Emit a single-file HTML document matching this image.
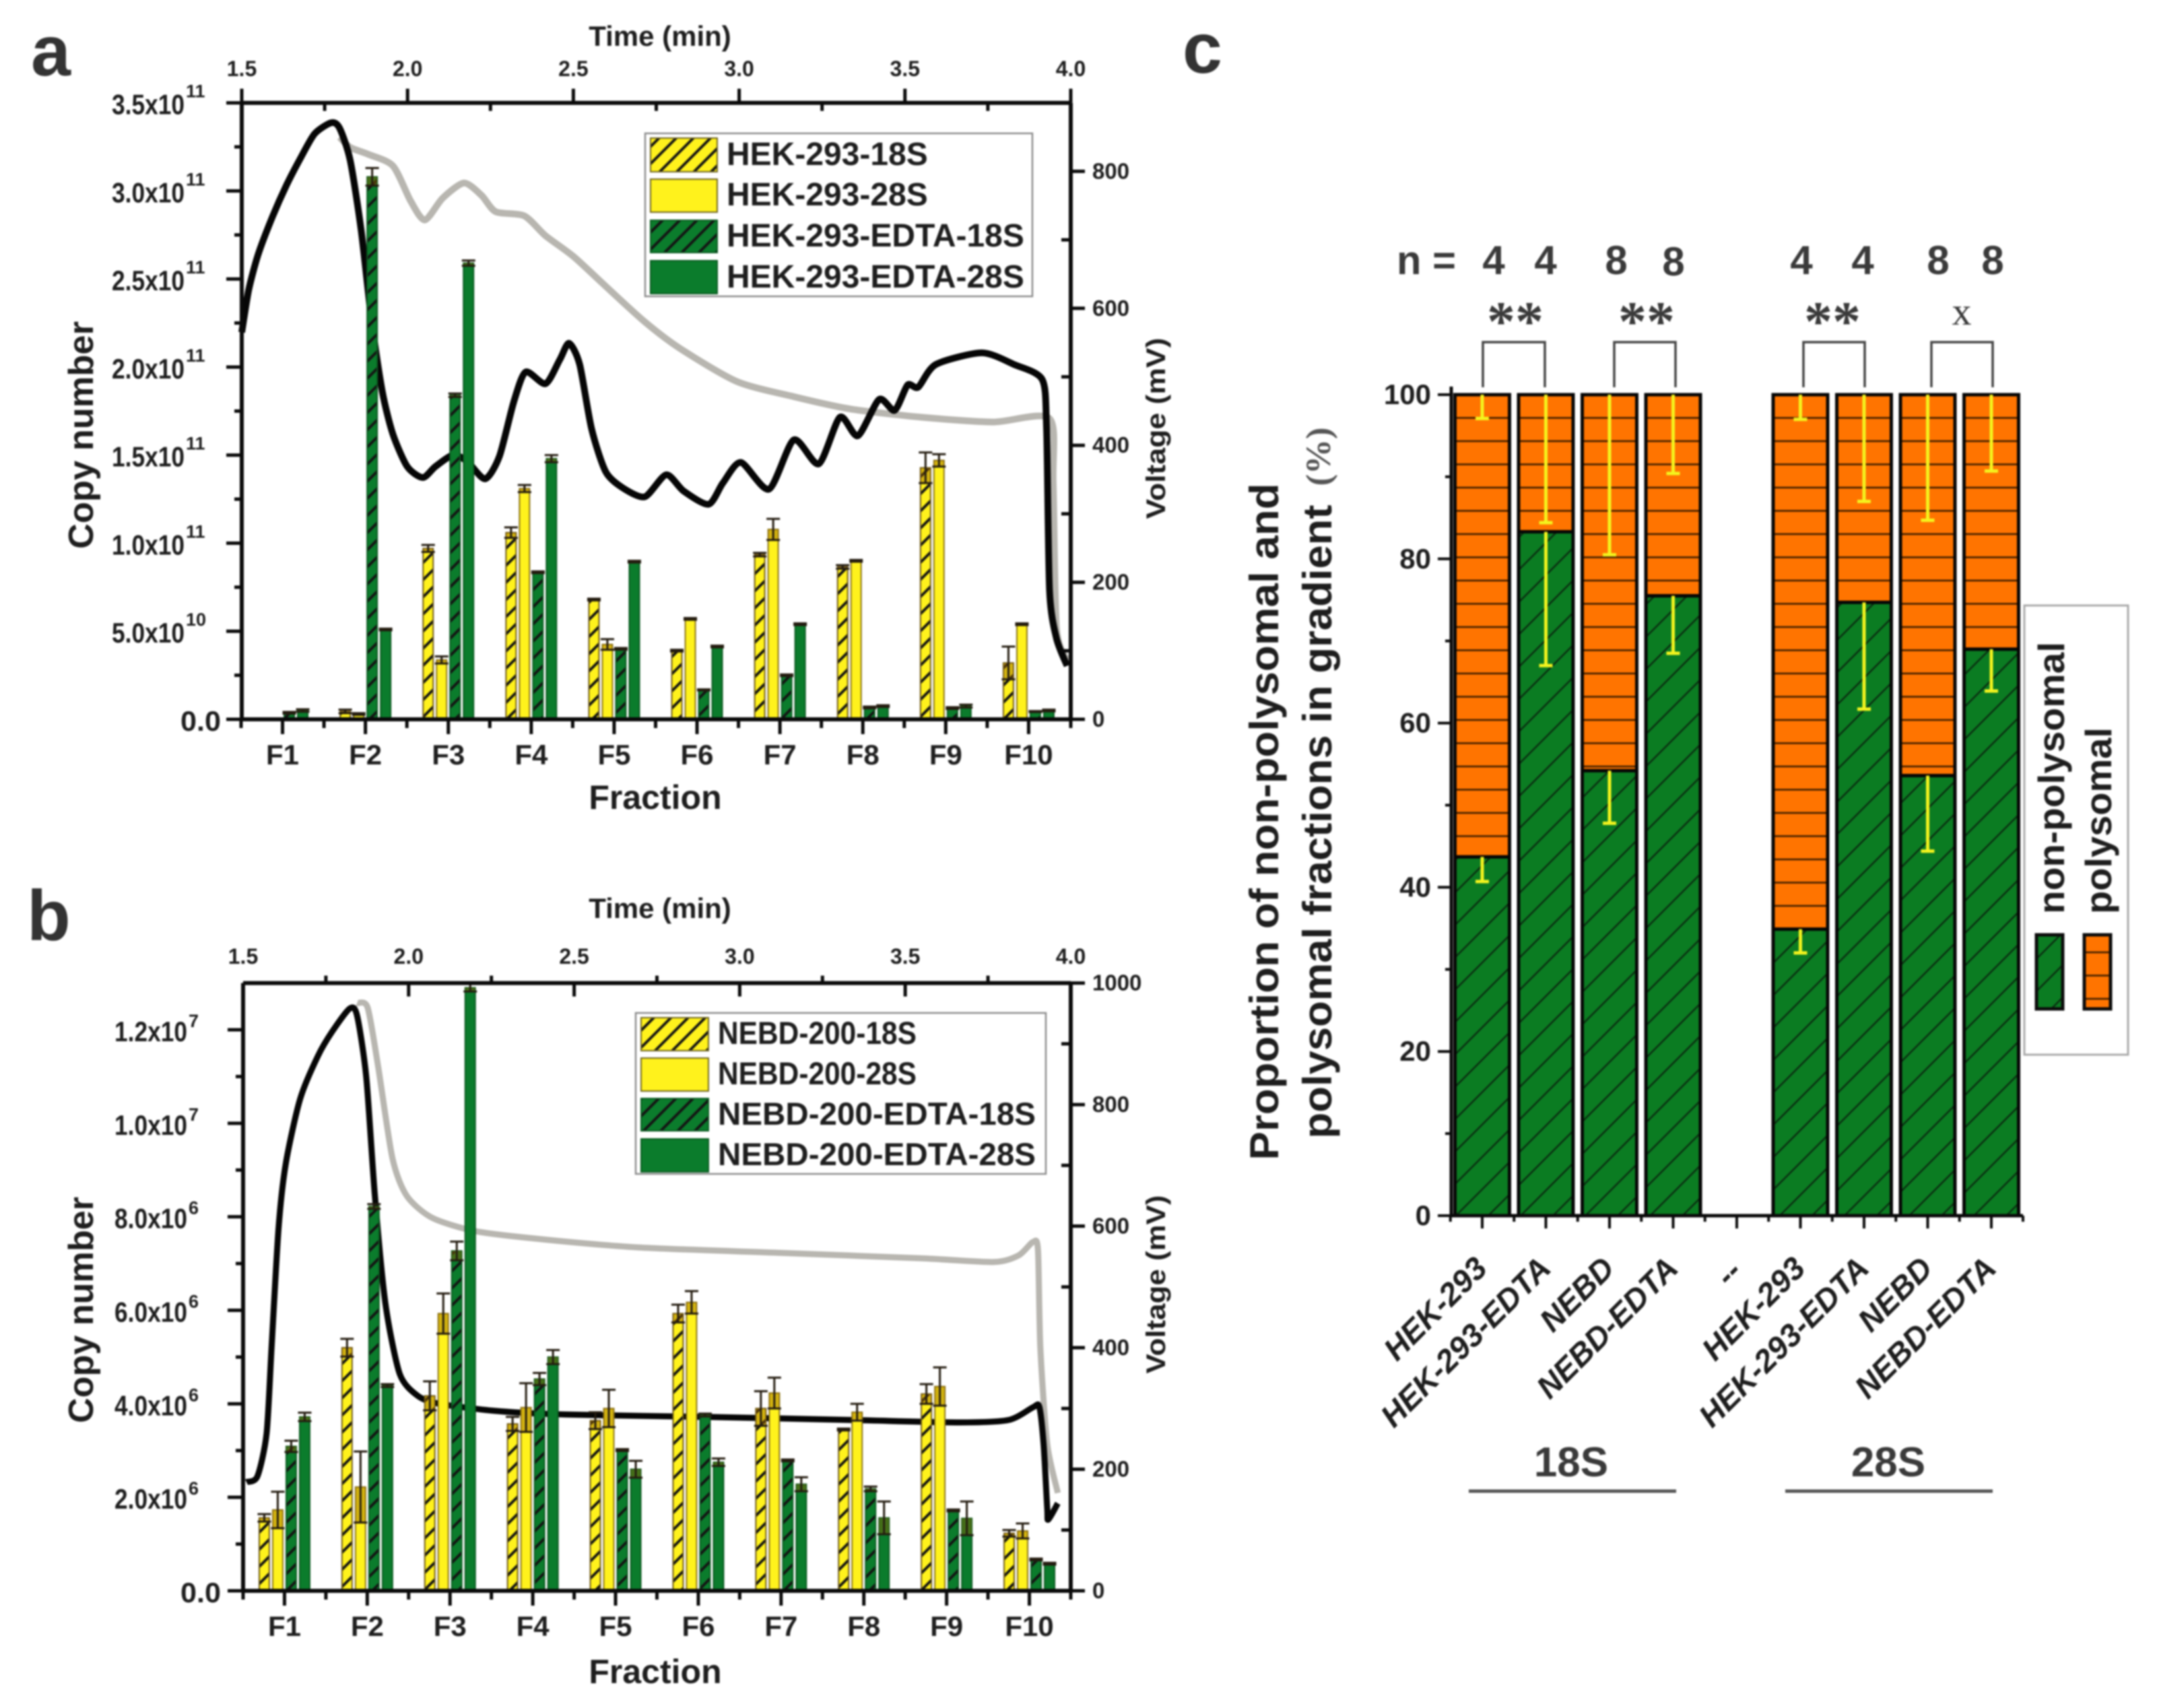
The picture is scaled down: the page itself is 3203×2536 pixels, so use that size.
<!DOCTYPE html>
<html lang="en">
<head>
<meta charset="utf-8">
<title>Polysomal fraction copy numbers</title>
<style>
html,body{margin:0;padding:0;background:#fff;width:3203px;height:2536px;overflow:hidden}
svg{display:block;filter:blur(1.4px)}
text{font-family:"Liberation Sans",sans-serif;font-weight:bold;fill:#1e1e1e}
</style>
</head>
<body>
<svg id="figure" xmlns="http://www.w3.org/2000/svg" width="3203" height="2536" viewBox="0 0 3203 2536">
<defs>
<pattern id="hatch-yellow" width="18" height="18" patternUnits="userSpaceOnUse" patternTransform="rotate(45)"><rect width="18" height="18" fill="#fff21c"/><line x1="9" y1="0" x2="9" y2="18" stroke="#141414" stroke-width="4"/></pattern>
<pattern id="hatch-green" width="18" height="18" patternUnits="userSpaceOnUse" patternTransform="rotate(45)"><rect width="18" height="18" fill="#0b7c2c"/><line x1="9" y1="0" x2="9" y2="18" stroke="#141414" stroke-width="4"/></pattern>
<pattern id="hatch-c-green" width="34" height="34" patternUnits="userSpaceOnUse" patternTransform="rotate(45)"><rect width="34" height="34" fill="#0b7c22"/><line x1="17" y1="0" x2="17" y2="34" stroke="#0a2a10" stroke-width="2.4"/></pattern>
<pattern id="lines-c-orange" width="34.5" height="34.5" patternUnits="userSpaceOnUse" patternTransform="translate(0,569)"><rect width="34.5" height="34.5" fill="#ff7400"/><line x1="0" y1="17" x2="34.5" y2="17" stroke="#3a1c00" stroke-width="2.6"/></pattern>
</defs>
<rect x="0" y="0" width="3203" height="2536" fill="#fff"/>

<text x="46" y="112" font-size="106" style="fill:#333">a</text>
<text x="40" y="1396" font-size="106" style="fill:#333">b</text>
<text x="1756" y="108" font-size="106" style="fill:#333">c</text>

<g id="panel-a"></g>
<g id="panel-b"></g>
<g id="panel-c"></g>

<!-- panel a titles -->
<text x="980" y="68" font-size="42" text-anchor="middle">Time (min)</text>
<text x="973" y="1201" font-size="50" text-anchor="middle">Fraction</text>
<text transform="translate(138,646) rotate(-90)" font-size="52" text-anchor="middle" textLength="338" lengthAdjust="spacingAndGlyphs">Copy number</text>
<text transform="translate(1730,636) rotate(-90)" font-size="40" text-anchor="middle" textLength="269" lengthAdjust="spacingAndGlyphs">Voltage (mV)</text>

<!-- panel a legend -->
<g>
<rect x="958" y="198" width="575" height="242" fill="#fff" stroke="#8c8c8c" stroke-width="2.5"/>
<rect x="966" y="205" width="99" height="50" fill="url(#hatch-yellow)" stroke="#6e6420" stroke-width="2"/>
<rect x="966" y="266" width="99" height="49" fill="#fff21c" stroke="#6e6420" stroke-width="2"/>
<rect x="966" y="327" width="99" height="48" fill="url(#hatch-green)" stroke="#0a5a20" stroke-width="2"/>
<rect x="966" y="387" width="99" height="49" fill="#0b7c2c" stroke="#0a5a20" stroke-width="2"/>
<text x="1079" y="245" font-size="48">HEK-293-18S</text>
<text x="1079" y="305" font-size="48">HEK-293-28S</text>
<text x="1079" y="366" font-size="48">HEK-293-EDTA-18S</text>
<text x="1079" y="427" font-size="48">HEK-293-EDTA-28S</text>
</g>

<!-- panel b titles -->
<text x="980" y="1363" font-size="42" text-anchor="middle">Time (min)</text>
<text x="973" y="2499" font-size="50" text-anchor="middle">Fraction</text>
<text transform="translate(138,1945) rotate(-90)" font-size="52" text-anchor="middle" textLength="336" lengthAdjust="spacingAndGlyphs">Copy number</text>
<text transform="translate(1730,1907) rotate(-90)" font-size="40" text-anchor="middle" textLength="265" lengthAdjust="spacingAndGlyphs">Voltage (mV)</text>

<!-- panel b legend -->
<g>
<rect x="944" y="1504" width="609" height="239" fill="#fff" stroke="#8c8c8c" stroke-width="2.5"/>
<rect x="952" y="1511" width="100" height="49" fill="url(#hatch-yellow)" stroke="#6e6420" stroke-width="2"/>
<rect x="952" y="1571" width="100" height="49" fill="#fff21c" stroke="#6e6420" stroke-width="2"/>
<rect x="952" y="1631" width="100" height="48" fill="url(#hatch-green)" stroke="#0a5a20" stroke-width="2"/>
<rect x="952" y="1691" width="100" height="49" fill="#0b7c2c" stroke="#0a5a20" stroke-width="2"/>
<text x="1066" y="1550" font-size="47" textLength="295" lengthAdjust="spacingAndGlyphs">NEBD-200-18S</text>
<text x="1066" y="1610" font-size="47" textLength="295" lengthAdjust="spacingAndGlyphs">NEBD-200-28S</text>
<text x="1066" y="1670" font-size="47" textLength="472" lengthAdjust="spacingAndGlyphs">NEBD-200-EDTA-18S</text>
<text x="1066" y="1730" font-size="47" textLength="472" lengthAdjust="spacingAndGlyphs">NEBD-200-EDTA-28S</text>
</g>

<!-- panel c titles -->
<text transform="translate(1898,1220) rotate(-90)" font-size="60" text-anchor="middle" textLength="1005" lengthAdjust="spacingAndGlyphs">Proportion of non-polysomal and</text>
<text transform="translate(1977,1220) rotate(-90)" font-size="60" text-anchor="middle" textLength="941" lengthAdjust="spacingAndGlyphs">polysomal fractions in gradient</text>
<text transform="translate(1975,678) rotate(-90)" font-size="52" text-anchor="middle" textLength="87" lengthAdjust="spacingAndGlyphs" style="font-family:'Liberation Serif',serif;fill:#555">(%)</text>

<text x="2074" y="407" font-size="60" style="fill:#3a3a3a" textLength="88" lengthAdjust="spacingAndGlyphs">n =</text>
<text x="2218" y="407" font-size="60" text-anchor="middle" style="fill:#3a3a3a">4</text>
<text x="2295" y="407" font-size="60" text-anchor="middle" style="fill:#3a3a3a">4</text>
<text x="2400" y="407" font-size="60" text-anchor="middle" style="fill:#3a3a3a">8</text>
<text x="2485" y="409" font-size="60" text-anchor="middle" style="fill:#3a3a3a">8</text>
<text x="2675" y="407" font-size="60" text-anchor="middle" style="fill:#3a3a3a">4</text>
<text x="2766" y="407" font-size="60" text-anchor="middle" style="fill:#3a3a3a">4</text>
<text x="2878" y="407" font-size="60" text-anchor="middle" style="fill:#3a3a3a">8</text>
<text x="2959" y="407" font-size="60" text-anchor="middle" style="fill:#3a3a3a">8</text>

<text x="2250" y="505" font-size="84" text-anchor="middle" style="font-family:'Liberation Serif',serif;fill:#3a3a3a">**</text>
<text x="2445" y="505" font-size="84" text-anchor="middle" style="font-family:'Liberation Serif',serif;fill:#3a3a3a">**</text>
<text x="2721" y="505" font-size="84" text-anchor="middle" style="font-family:'Liberation Serif',serif;fill:#3a3a3a">**</text>
<text x="2913" y="482" font-size="58" text-anchor="middle" style="font-family:'Liberation Serif',serif;font-weight:normal;fill:#3a3a3a">x</text>

<path d="M2202 575V508H2294V575" fill="none" stroke="#444" stroke-width="3.5"/>
<path d="M2397 575V508H2488V575" fill="none" stroke="#444" stroke-width="3.5"/>
<path d="M2678 575V508H2769V575" fill="none" stroke="#444" stroke-width="3.5"/>
<path d="M2868 575V508H2959V575" fill="none" stroke="#444" stroke-width="3.5"/>

<text x="2333" y="2192" font-size="62" text-anchor="middle" style="fill:#3a3a3a">18S</text>
<text x="2804" y="2192" font-size="62" text-anchor="middle" style="fill:#3a3a3a">28S</text>
<line x1="2181" y1="2214" x2="2489" y2="2214" stroke="#555" stroke-width="5"/>
<line x1="2651" y1="2214" x2="2959" y2="2214" stroke="#555" stroke-width="5"/>

<g>
<rect x="3006" y="899" width="154" height="667" fill="#fff" stroke="#aaa" stroke-width="3"/>
<text transform="translate(3065,1357) rotate(-90)" font-size="55" textLength="404" lengthAdjust="spacingAndGlyphs">non-polysomal</text>
<text transform="translate(3135,1357) rotate(-90)" font-size="55" textLength="277" lengthAdjust="spacingAndGlyphs">polysomal</text>
<rect x="3024" y="1388" width="39" height="110" fill="url(#hatch-c-green)" stroke="#0c0c0c" stroke-width="5"/>
<rect x="3095" y="1388" width="39" height="110" fill="url(#lines-c-orange)" stroke="#0c0c0c" stroke-width="5"/>
</g>
</svg>

<script>
// ---------- shared ----------
const fractionLabels = ['F1','F2','F3','F4','F5','F6','F7','F8','F9','F10'];
const timeTicks = [1.5, 2.0, 2.5, 3.0, 3.5, 4.0];
const timeTickLabels = ['1.5','2.0','2.5','3.0','3.5','4.0'];

// ---------- panel a (copy number in units of 1e10) ----------
const aHek18S = [0.02, 0.45, 9.7, 10.6, 6.8, 3.9, 9.35, 8.65, 14.28, 3.2];
const aHek18SErr = [0, 0.1, 0.2, 0.3, 0.05, 0.05, 0.1, 0.1, 0.87, 0.93];
const aHek28S = [0.05, 0.3, 3.37, 13.1, 4.25, 5.7, 10.78, 9.0, 14.7, 5.4];
const aHek28SErr = [0, 0.05, 0.2, 0.2, 0.3, 0.05, 0.6, 0.05, 0.35, 0.05];
const aEdta18S = [0.37, 30.8, 18.4, 8.35, 4.0, 1.67, 2.5, 0.67, 0.64, 0.44];
const aEdta18SErr = [0.05, 0.5, 0.1, 0.05, 0.05, 0.03, 0.05, 0.05, 0.05, 0.03];
const aEdta28S = [0.5, 5.1, 25.9, 14.8, 8.95, 4.13, 5.4, 0.75, 0.75, 0.5];
const aEdta28SErr = [0.07, 0.05, 0.15, 0.2, 0.05, 0.05, 0.05, 0.05, 0.08, 0.05];
const aYTicks = [0, 5, 10, 15, 20, 25, 30, 35];
const aYTickLabels = ['0.0','5.0x10','1.0x10','1.5x10','2.0x10','2.5x10','3.0x10','3.5x10'];
const aYTickExps = ['','10','11','11','11','11','11','11'];
const aVoltTicks = [0, 200, 400, 600, 800];
const aBlackTime = [1.5,1.521,1.549,1.592,1.635,1.678,1.72,1.77,1.795,1.827,1.86,1.892,1.924,1.956,1.999,2.046,2.084,2.138,2.181,2.234,2.277,2.32,2.356,2.416,2.459,2.487,2.519,2.555,2.598,2.652,2.716,2.78,2.833,2.908,2.951,3.005,3.09,3.165,3.24,3.304,3.358,3.422,3.469,3.508,3.54,3.593,3.732,3.829,3.914,3.927,3.936,3.957,3.989];
const aBlackVolt = [565,627,678,733,780,820,855,871,863,816,714,580,478,416,369,353,369,386,376,351,384,463,507,490,525,549,518,424,361,337,325,357,333,314,345,375,336,408,373,441,414,467,451,488,485,518,535,518,496,424,188,118,78];
const aGreyTime = [1.795,1.827,1.881,1.956,2.009,2.052,2.106,2.17,2.223,2.266,2.352,2.416,2.502,2.609,2.716,2.823,2.994,3.165,3.336,3.55,3.765,3.936,3.947,3.957,3.989];
const aGreyVolt = [850,835,825,808,757,729,761,783,765,741,735,706,675,627,580,541,493,471,453,441,434,439,345,133,86];

// ---------- panel b (copy number in units of 1e6) ----------
const bNebd18S = [1.56, 5.2, 4.17, 3.57, 3.64, 5.93, 3.9, 3.45, 4.21, 1.23];
const bNebd18SErr = [0.08, 0.19, 0.31, 0.15, 0.18, 0.19, 0.37, 0.02, 0.21, 0.07];
const bNebd28S = [1.73, 2.22, 5.93, 3.92, 3.9, 6.17, 4.23, 3.82, 4.37, 1.28];
const bNebd28SErr = [0.39, 0.76, 0.43, 0.52, 0.4, 0.24, 0.33, 0.18, 0.41, 0.16];
const bEdta18S = [3.09, 8.22, 7.27, 4.53, 3.01, 3.76, 2.79, 2.18, 1.72, 0.67];
const bEdta18SErr = [0.12, 0.05, 0.2, 0.13, 0.02, 0.03, 0.02, 0.05, 0.02, 0.02];
const bEdta28S = [3.72, 4.39, 12.9, 5.0, 2.6, 2.75, 2.28, 1.56, 1.55, 0.58];
const bEdta28SErr = [0.09, 0.03, 0.08, 0.15, 0.18, 0.08, 0.15, 0.35, 0.36, 0.02];
const bYTicks = [0, 2, 4, 6, 8, 10, 12];
const bYTickLabels = ['0.0','2.0x10','4.0x10','6.0x10','8.0x10','1.0x10','1.2x10'];
const bYTickExps = ['','6','6','6','6','7','7'];
const bVoltTicks = [0, 200, 400, 600, 800, 1000];
const bBlackTime = [1.51,1.543,1.571,1.586,1.607,1.629,1.672,1.726,1.769,1.822,1.844,1.872,1.898,1.93,1.973,2.027,2.091,2.263,2.478,2.908,3.338,3.66,3.812,3.886,3.905,3.918,3.929,3.932,3.961];
const bBlackVolt = [179,188,259,401,596,703,809,880,920,958,947,845,650,472,357,321,308,296,290,286,281,277,281,302,303,241,135,117,144];
const bGreyTime = [1.844,1.876,1.908,1.951,1.994,2.07,2.199,2.392,2.693,3.123,3.553,3.768,3.843,3.886,3.901,3.908,3.929,3.961];
const bGreyVolt = [967,960,862,712,650,614,592,579,565,556,547,541,552,574,561,401,241,161];

// ---------- panel c (percent) ----------
const cCategories = ['HEK-293','HEK-293-EDTA','NEBD','NEBD-EDTA','--','HEK-293','HEK-293-EDTA','NEBD','NEBD-EDTA'];
const cNonPolysomal = [43.7, 83.3, 54.2, 75.5, null, 34.9, 74.7, 53.6, 69];
const cNonPolysomalLow = [40.7, 67, 47.8, 68.5, null, 32, 61.7, 44.4, 63.9];
const cPolysomalLow = [97.1, 84.4, 80.5, 90.4, null, 97, 87, 84.7, 90.7];
const cYTicks = [0, 20, 40, 60, 80, 100];

const SVG_NS = 'http://www.w3.org/2000/svg';
function mk(parent, tag, attrs, name, text) {
  const el = document.createElementNS(SVG_NS, tag);
  for (const k in attrs) el.setAttribute(k, attrs[k]);
  
  
  if (text !== undefined) el.textContent = text;
  parent.appendChild(el);
  return el;
}
function smoothPath(pts) {
  let d = 'M' + pts[0][0].toFixed(1) + ' ' + pts[0][1].toFixed(1);
  for (let i = 0; i < pts.length - 1; i++) {
    const p0 = pts[Math.max(0, i - 1)], p1 = pts[i], p2 = pts[i + 1], p3 = pts[Math.min(pts.length - 1, i + 2)];
    const k = 8;
    d += 'C' + (p1[0] + (p2[0] - p0[0]) / k).toFixed(1) + ' ' + (p1[1] + (p2[1] - p0[1]) / k).toFixed(1) + ' ' +
         (p2[0] - (p3[0] - p1[0]) / k).toFixed(1) + ' ' + (p2[1] - (p3[1] - p1[1]) / k).toFixed(1) + ' ' +
         p2[0].toFixed(1) + ' ' + p2[1].toFixed(1);
  }
  return d;
}

function drawDual(cfg) {
  const g = document.getElementById(cfg.id);
  const p = cfg.prefix;
  const y = v => cfg.bottom - (v / cfg.yMax) * (cfg.bottom - cfg.yTop);
  const v2y = v => cfg.bottom - (v / cfg.voltMax) * (cfg.bottom - cfg.yTop);
  const t2x = t => cfg.left + (t - 1.5) / 2.5 * (cfg.right - cfg.left);
  const band = (cfg.right - cfg.left) / fractionLabels.length;
  const fx = i => cfg.left + band * (i + 0.5) + cfg.fxShift;
  const sw = 6;

  // curves (behind bars)
  mk(g, 'path', {d: smoothPath(cfg.greyT.map((t, i) => [t2x(t), v2y(cfg.greyV[i])])), fill: 'none', stroke: '#b8b6b0', 'stroke-width': cfg.curveW, 'stroke-linejoin': 'round'}, p + '-voltage-trace-grey');
  mk(g, 'path', {d: smoothPath(cfg.blackT.map((t, i) => [t2x(t), v2y(cfg.blackV[i])])), fill: 'none', stroke: '#060606', 'stroke-width': cfg.curveW, 'stroke-linejoin': 'round'}, p + '-voltage-trace-black');

  // bars
  const barW = 15, step = 20;
  const fills = ['url(#hatch-yellow)', '#fff21c', 'url(#hatch-green)', '#0b7c2c'];
  const strokes = ['#6e5a18', '#8a7418', '#0a5a20', '#0a5a20'];
  cfg.series.forEach((vals, s) => {
    vals.forEach((v, i) => {
      const cx = fx(i) + (s - 1.5) * step;
      const top = y(v);
      mk(g, 'rect', {x: cx - barW / 2, y: top, width: barW, height: Math.max(0, cfg.bottom - top), fill: fills[s], stroke: strokes[s], 'stroke-width': 2}, p + '-bar-' + cfg.seriesNames[s] + '-' + fractionLabels[i].toLowerCase());
      const e = cfg.errors[s][i];
      if (e > 0) {
        const hi = y(v + e), lo = y(Math.max(0, v - e));
        mk(g, 'rect', {x: cx - barW / 2, y: top, width: barW, height: Math.max(0, lo - top), fill: 'rgba(150,95,0,0.42)'}, p + '-error-shade');
        mk(g, 'path', {d: 'M' + (cx - 10) + ' ' + hi + 'H' + (cx + 10) + 'M' + cx + ' ' + hi + 'V' + lo + 'M' + (cx - 10) + ' ' + lo + 'H' + (cx + 10), fill: 'none', stroke: '#241c10', 'stroke-width': 3}, p + '-error-bar');
      }
    });
  });

  // axes
  const axis = {stroke: '#0a0a0a', 'stroke-width': sw, fill: 'none'};
  mk(g, 'line', Object.assign({x1: cfg.left, y1: cfg.bottom, x2: cfg.right, y2: cfg.bottom}, axis), p + '-x-axis-line');
  mk(g, 'line', Object.assign({x1: cfg.left, y1: cfg.yTop, x2: cfg.right, y2: cfg.yTop}, axis), p + '-top-axis-line');
  mk(g, 'line', Object.assign({x1: cfg.left, y1: cfg.yTop, x2: cfg.left, y2: cfg.bottom}, axis), p + '-left-axis-line');
  mk(g, 'line', Object.assign({x1: cfg.right, y1: cfg.yTop, x2: cfg.right, y2: cfg.bottom}, axis), p + '-right-axis-line');
  const tk = Object.assign({}, axis, {'stroke-width': 5});

  // x ticks
  fractionLabels.forEach((lab, i) => {
    mk(g, 'line', Object.assign({x1: fx(i), y1: cfg.bottom, x2: fx(i), y2: cfg.bottom + 22}, tk), p + '-x-tick');
    mk(g, 'line', Object.assign({x1: fx(i) - band / 2, y1: cfg.bottom, x2: fx(i) - band / 2, y2: cfg.bottom + 13}, tk), p + '-x-minor-tick');
    mk(g, 'text', {x: fx(i), y: cfg.bottom + 67, 'font-size': 42, 'text-anchor': 'middle'}, p + '-x-tick-label-' + lab.toLowerCase(), lab);
  });
  mk(g, 'line', Object.assign({x1: cfg.right, y1: cfg.bottom, x2: cfg.right, y2: cfg.bottom + 13}, tk), p + '-x-minor-tick');

  // top ticks
  timeTicks.forEach((t, i) => {
    mk(g, 'line', Object.assign({x1: t2x(t), y1: cfg.yTop, x2: t2x(t), y2: cfg.yTop + cfg.topMajor}, tk), p + '-top-tick');
    if (i < timeTicks.length - 1) mk(g, 'line', Object.assign({x1: t2x(t + 0.25), y1: cfg.yTop, x2: t2x(t + 0.25), y2: cfg.yTop + cfg.topMinor}, tk), p + '-top-minor-tick');
    mk(g, 'text', {x: t2x(t), y: cfg.topLabelY, 'font-size': 32, 'text-anchor': 'middle'}, p + '-top-tick-label', timeTickLabels[i]);
  });

  // left ticks
  cfg.yTicks.forEach((v, i) => {
    const ty = y(v);
    mk(g, 'line', Object.assign({x1: cfg.left, y1: ty, x2: cfg.left - 23, y2: ty}, tk), p + '-y-tick');
    if (i < cfg.yTicks.length - 1) {
      const my = y(v + (cfg.yTicks[1] - cfg.yTicks[0]) / 2);
      mk(g, 'line', Object.assign({x1: cfg.left, y1: my, x2: cfg.left - 11, y2: my}, tk), p + '-y-minor-tick');
    }
    const lab = cfg.yTickLabels[i];
    if (cfg.yTickExps[i]) {
      mk(g, 'text', {x: cfg.labelX, y: ty + cfg.labelDy, 'font-size': 42, textLength: 108, lengthAdjust: 'spacingAndGlyphs'}, p + '-y-tick-label', lab);
      mk(g, 'text', {x: cfg.labelX + 110, y: ty + cfg.expDy, 'font-size': 27}, p + '-y-tick-exponent', cfg.yTickExps[i]);
    } else {
      mk(g, 'text', {x: 328, y: ty + cfg.labelDy, 'font-size': 42, 'text-anchor': 'end', textLength: 60, lengthAdjust: 'spacingAndGlyphs'}, p + '-y-tick-label', lab);
    }
  });

  // right ticks
  cfg.voltTicks.forEach((v, i) => {
    const ty = v2y(v);
    mk(g, 'line', Object.assign({x1: cfg.right, y1: ty, x2: cfg.right + 21, y2: ty}, tk), p + '-right-tick');
    if (i < cfg.voltTicks.length - 1 || v2y(v + 100) >= cfg.yTop) {
      const my = v2y(v + 100);
      mk(g, 'line', Object.assign({x1: cfg.right, y1: my, x2: cfg.right - 14, y2: my}, tk), p + '-right-minor-tick');
    }
    mk(g, 'text', {x: cfg.right + 32, y: ty + 11, 'font-size': 33}, p + '-right-tick-label', String(v));
  });
}

drawDual({
  id: 'panel-a', prefix: 'panel-a',
  left: 359, right: 1590, yTop: 152.7, bottom: 1068, fxShift: -1,
  yMax: 35, voltMax: 900, curveW: 10,
  series: [aHek18S, aHek28S, aEdta18S, aEdta28S],
  errors: [aHek18SErr, aHek28SErr, aEdta18SErr, aEdta28SErr],
  seriesNames: ['hek-18s', 'hek-28s', 'hek-edta-18s', 'hek-edta-28s'],
  yTicks: aYTicks, yTickLabels: aYTickLabels, yTickExps: aYTickExps, voltTicks: aVoltTicks,
  blackT: aBlackTime, blackV: aBlackVolt, greyT: aGreyTime, greyV: aGreyVolt,
  topMajor: -21, topMinor: 12, topLabelY: 113, labelX: 166, labelDy: 17, expDy: -8
});

drawDual({
  id: 'panel-b', prefix: 'panel-b',
  left: 361, right: 1590, yTop: 1459.6, bottom: 2362, fxShift: 0,
  yMax: 13, voltMax: 1000, curveW: 9,
  series: [bNebd18S, bNebd28S, bEdta18S, bEdta28S],
  errors: [bNebd18SErr, bNebd28SErr, bEdta18SErr, bEdta28SErr],
  seriesNames: ['nebd-18s', 'nebd-28s', 'nebd-edta-18s', 'nebd-edta-28s'],
  yTicks: bYTicks, yTickLabels: bYTickLabels, yTickExps: bYTickExps, voltTicks: bVoltTicks,
  blackT: bBlackTime, blackV: bBlackVolt, greyT: bGreyTime, greyV: bGreyVolt,
  topMajor: 20, topMinor: -11, topLabelY: 1431, labelX: 170, labelDy: 17, expDy: -4
});

(function drawStacked() {
  const g = document.getElementById('panel-c');
  const axisX = 2155, axisEnd = 3004, base = 1805, pxPerPct = 12.19;
  const y = v => base - v * pxPerPct;
  const cx = i => 2201 + 94.5 * i;
  const barW = 81;

  cCategories.forEach((cat, i) => {
    const v = cNonPolysomal[i];
    if (v !== null) {
      mk(g, 'rect', {x: cx(i) - barW / 2, y: y(100), width: barW, height: y(v) - y(100), fill: 'url(#lines-c-orange)', stroke: '#060606', 'stroke-width': 5}, 'bar-polysomal-' + i);
      mk(g, 'rect', {x: cx(i) - barW / 2, y: y(v), width: barW, height: base - y(v), fill: 'url(#hatch-c-green)', stroke: '#060606', 'stroke-width': 5}, 'bar-non-polysomal-' + i);
      const ex = cx(i);
      mk(g, 'path', {d: 'M' + ex + ' ' + y(100) + 'V' + y(cPolysomalLow[i]) + 'M' + (ex - 10) + ' ' + y(cPolysomalLow[i]) + 'H' + (ex + 10), fill: 'none', stroke: '#f4f41e', 'stroke-width': 5}, 'error-polysomal-' + i);
      mk(g, 'path', {d: 'M' + ex + ' ' + y(v) + 'V' + y(cNonPolysomalLow[i]) + 'M' + (ex - 10) + ' ' + y(cNonPolysomalLow[i]) + 'H' + (ex + 10), fill: 'none', stroke: '#f4f41e', 'stroke-width': 5}, 'error-non-polysomal-' + i);
    }
    mk(g, 'line', {x1: cx(i), y1: base, x2: cx(i), y2: base + 19, stroke: '#0a0a0a', 'stroke-width': 4}, 'panel-c-x-tick');
    mk(g, 'line', {x1: cx(i) - 47.25, y1: base, x2: cx(i) - 47.25, y2: base + 9, stroke: '#0a0a0a', 'stroke-width': 4}, 'panel-c-x-minor-tick');
    const ax = cx(i) + 10, ay = cat === '--' ? 1890 : 1886;
    mk(g, 'text', {transform: 'translate(' + ax + ',' + ay + ') rotate(-45)', 'font-size': 47, 'text-anchor': 'end', 'font-style': 'italic'}, 'panel-c-x-tick-label-' + i, cat);
  });
  mk(g, 'line', {x1: axisEnd, y1: base, x2: axisEnd, y2: base + 9, stroke: '#0a0a0a', 'stroke-width': 4}, 'panel-c-x-minor-tick');

  mk(g, 'line', {x1: axisX, y1: base, x2: axisEnd, y2: base, stroke: '#0a0a0a', 'stroke-width': 5}, 'panel-c-x-axis-line');
  mk(g, 'line', {x1: axisX, y1: 574, x2: axisX, y2: base + 2, stroke: '#0a0a0a', 'stroke-width': 5}, 'panel-c-y-axis-line');

  cYTicks.forEach((v, i) => {
    mk(g, 'line', {x1: axisX, y1: y(v), x2: axisX - 20, y2: y(v), stroke: '#0a0a0a', 'stroke-width': 4}, 'panel-c-y-tick');
    if (i < cYTicks.length - 1) mk(g, 'line', {x1: axisX, y1: y(v + 10), x2: axisX - 9, y2: y(v + 10), stroke: '#0a0a0a', 'stroke-width': 4}, 'panel-c-y-minor-tick');
    mk(g, 'text', {x: 2125, y: y(v) + 14, 'font-size': 42, 'text-anchor': 'end'}, 'panel-c-y-tick-label', String(v));
  });
})();
</script>
</body>
</html>
